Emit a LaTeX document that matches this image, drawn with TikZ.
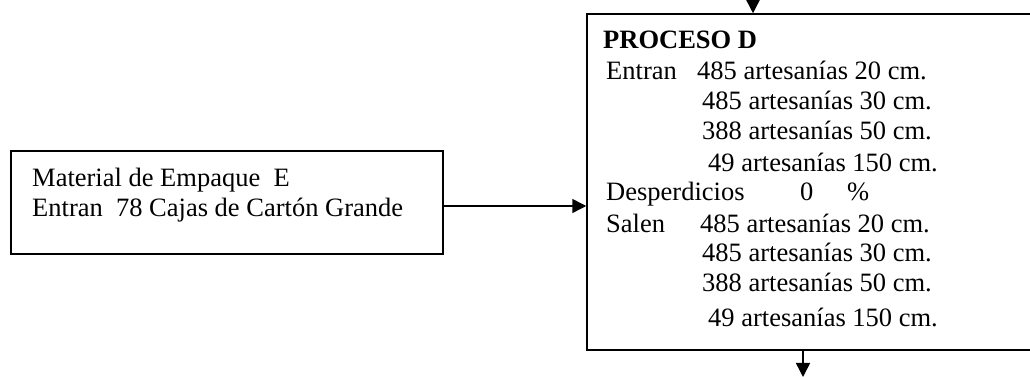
\documentclass[tikz,border=0pt]{standalone}
\usepackage{fontspec}
\setmainfont{Liberation Serif}
\usetikzlibrary{arrows.meta}
\tikzset{
  box/.style={draw=black, line width=1.5pt, inner sep=0pt, fill=none},
  arr/.style={draw=black, line width=1.5pt, -{Triangle[length=14pt,width=14pt]}},
  txt/.style={inner sep=0pt, anchor=base west, font=\fontsize{26.5}{30}\selectfont},
  btxt/.style={txt, font=\fontsize{26.5}{30}\selectfont\bfseries},
}
\begin{document}
\begin{tikzpicture}[x=1pt,y=1pt]
\useasboundingbox (0,0) rectangle (1030,377);
\clip (0,0) rectangle (1030,377);
% boxes (image y flipped: y = 377 - y_img)
\node[box, minimum width=432pt, minimum height=103pt] (lbox) at (227,174.5) {};
\node[box, minimum width=460pt, minimum height=336pt] (proc) at (817,195) {};
% left box text
\node[txt] (l1) at (32,190) {Material de Empaque~~E};
\node[txt] (l2) at (32,160) {Entran~~78 Cajas de Cartón Grande};
% process text
\node[btxt] (p0) at (603,328) {PROCESO D};
\node[txt] (p1a) at (606,297) {Entran};
\node[txt] (p1b) at (697,297) {485 artesanías 20 cm.};
\node[txt] (p2) at (702,267) {485 artesanías 30 cm.};
\node[txt] (p3) at (702,237) {388 artesanías 50 cm.};
\node[txt] (p4) at (708,205) {49 artesanías 150 cm.};
\node[txt] (p5a) at (606,176) {Desperdicios};
\node[txt] (p5b) at (800,176) {0};
\node[txt] (p5c) at (847,176) {\%};
\node[txt] (p6a) at (606,144) {Salen};
\node[txt] (p6b) at (700,144) {485 artesanías 20 cm.};
\node[txt] (p7) at (702,115) {485 artesanías 30 cm.};
\node[txt] (p8) at (702,85) {388 artesanías 50 cm.};
\node[txt] (p9) at (708,50) {49 artesanías 150 cm.};
% connectors
\coordinate (topin) at (753,377);
\coordinate (botout) at (803,0);
\draw[arr] (topin) -- (topin |- proc.north);
\draw[arr] ([yshift=-3.5pt]lbox.east) -- ([yshift=-3.5pt]lbox.east -| proc.west);
\draw[arr] (proc.south -| botout) -- (botout);
\end{tikzpicture}
\end{document}
